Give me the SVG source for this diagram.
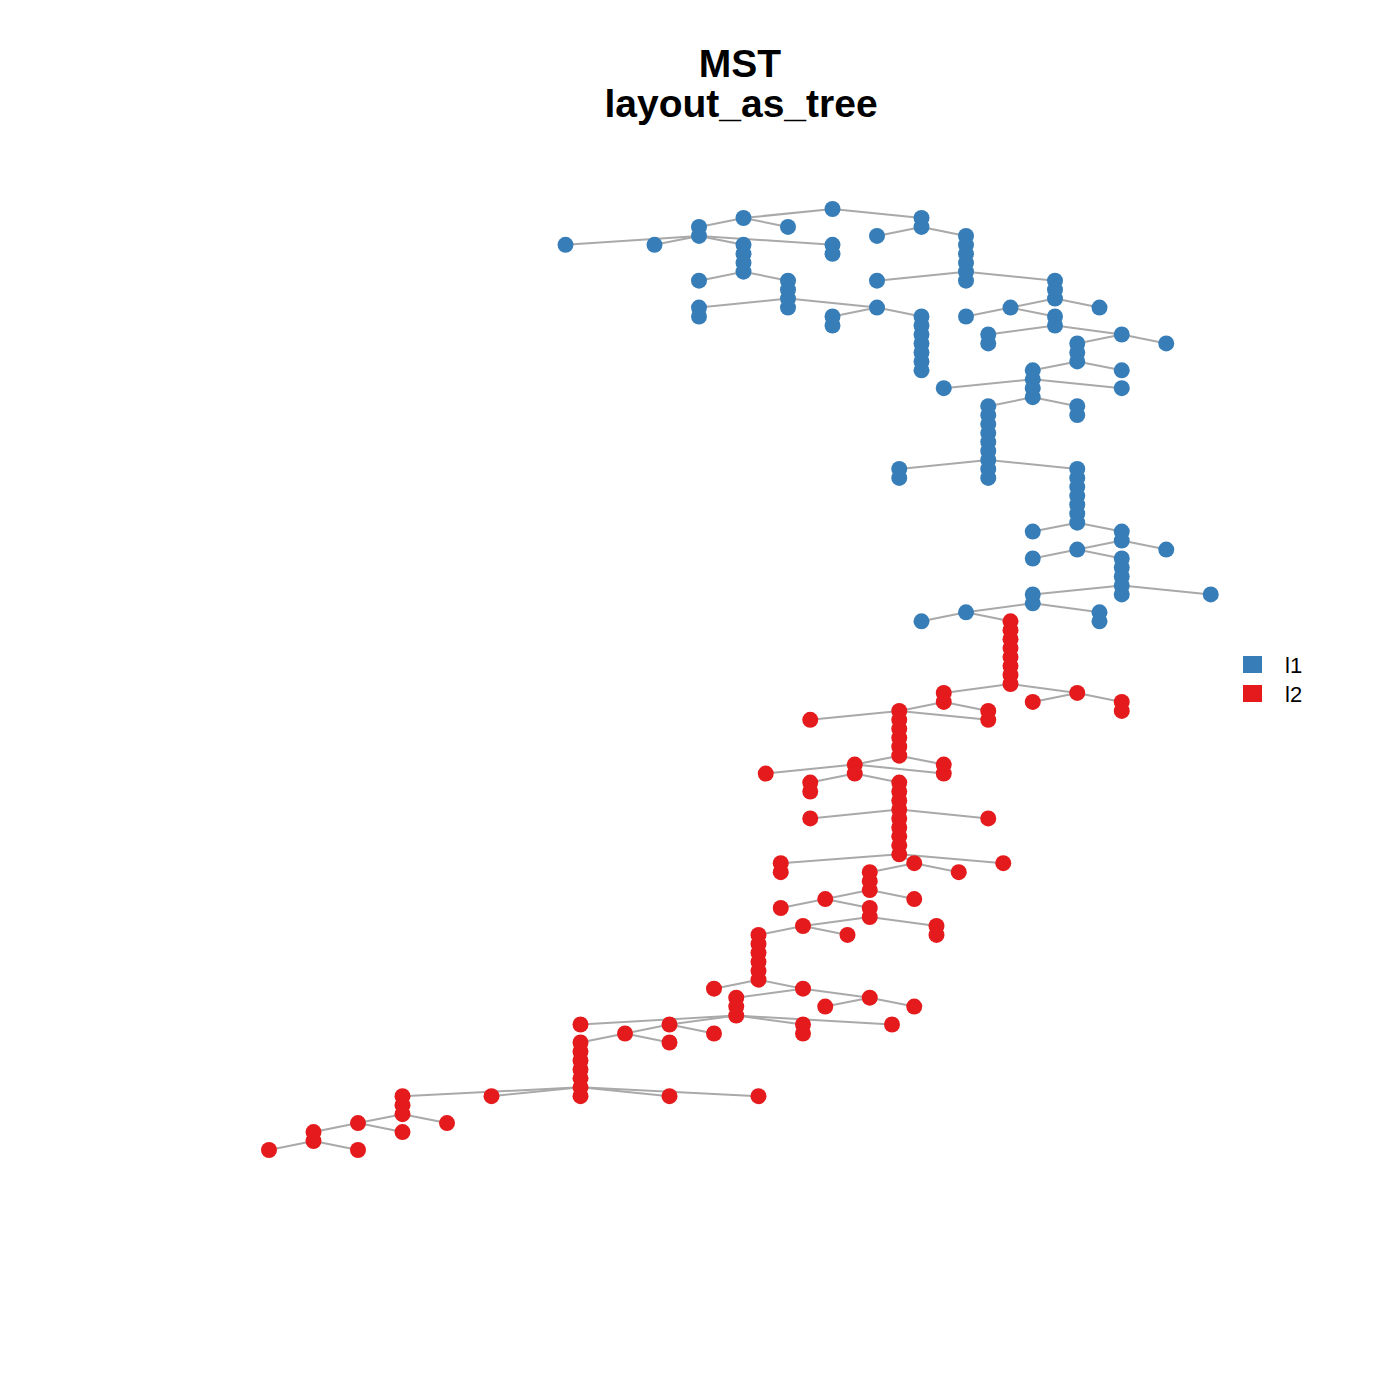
<svg xmlns="http://www.w3.org/2000/svg" width="1400" height="1400" viewBox="0 0 1400 1400">
<style>
.t{font-family:"Liberation Sans",Arial,sans-serif;font-weight:bold;font-size:39px;fill:#000;text-anchor:middle}
.lg{font-family:"Liberation Sans",Arial,sans-serif;font-size:22px;fill:#000}
.e line{stroke:#A9A9A9;stroke-width:2}
.b{fill:#377EB8}
.r{fill:#E41A1C}
</style>
<rect width="1400" height="1400" fill="#fff"/>
<text class="t" x="740" y="77">MST</text>
<text class="t" x="741" y="116.5">layout_as_tree</text>
<g id="edges" class="e">
<line x1="832.5" y1="209" x2="743.5" y2="218"/>
<line x1="832.5" y1="209" x2="921.5" y2="218"/>
<line x1="743.5" y1="218" x2="699" y2="226.9"/>
<line x1="743.5" y1="218" x2="788" y2="226.9"/>
<line x1="921.5" y1="218" x2="921.5" y2="226.9"/>
<line x1="699" y1="226.9" x2="699" y2="235.9"/>
<line x1="921.5" y1="226.9" x2="877" y2="235.9"/>
<line x1="921.5" y1="226.9" x2="966" y2="235.9"/>
<line x1="699" y1="235.9" x2="565.5" y2="244.8"/>
<line x1="699" y1="235.9" x2="654.5" y2="244.8"/>
<line x1="699" y1="235.9" x2="743.5" y2="244.8"/>
<line x1="699" y1="235.9" x2="832.5" y2="244.8"/>
<line x1="966" y1="235.9" x2="966" y2="244.8"/>
<line x1="743.5" y1="244.8" x2="743.5" y2="271.7"/>
<line x1="832.5" y1="244.8" x2="832.5" y2="253.8"/>
<line x1="966" y1="244.8" x2="966" y2="271.7"/>
<line x1="743.5" y1="271.7" x2="699" y2="280.7"/>
<line x1="743.5" y1="271.7" x2="788" y2="280.7"/>
<line x1="966" y1="271.7" x2="877" y2="280.7"/>
<line x1="966" y1="271.7" x2="966" y2="280.7"/>
<line x1="966" y1="271.7" x2="1055" y2="280.7"/>
<line x1="788" y1="280.7" x2="788" y2="298.6"/>
<line x1="1055" y1="280.7" x2="1055" y2="298.6"/>
<line x1="788" y1="298.6" x2="699" y2="307.6"/>
<line x1="788" y1="298.6" x2="788" y2="307.6"/>
<line x1="788" y1="298.6" x2="877" y2="307.6"/>
<line x1="1055" y1="298.6" x2="1010.5" y2="307.6"/>
<line x1="1055" y1="298.6" x2="1099.5" y2="307.6"/>
<line x1="699" y1="307.6" x2="699" y2="316.5"/>
<line x1="877" y1="307.6" x2="832.5" y2="316.5"/>
<line x1="877" y1="307.6" x2="921.5" y2="316.5"/>
<line x1="1010.5" y1="307.6" x2="966" y2="316.5"/>
<line x1="1010.5" y1="307.6" x2="1055" y2="316.5"/>
<line x1="832.5" y1="316.5" x2="832.5" y2="325.5"/>
<line x1="921.5" y1="316.5" x2="921.5" y2="370.3"/>
<line x1="1055" y1="316.5" x2="1055" y2="325.5"/>
<line x1="1055" y1="325.5" x2="988.25" y2="334.5"/>
<line x1="1055" y1="325.5" x2="1121.75" y2="334.5"/>
<line x1="988.25" y1="334.5" x2="988.25" y2="343.4"/>
<line x1="1121.75" y1="334.5" x2="1077.25" y2="343.4"/>
<line x1="1121.75" y1="334.5" x2="1166.25" y2="343.4"/>
<line x1="1077.25" y1="343.4" x2="1077.25" y2="361.4"/>
<line x1="1077.25" y1="361.4" x2="1032.75" y2="370.3"/>
<line x1="1077.25" y1="361.4" x2="1121.75" y2="370.3"/>
<line x1="1032.75" y1="370.3" x2="1032.75" y2="379.3"/>
<line x1="1032.75" y1="379.3" x2="943.75" y2="388.2"/>
<line x1="1032.75" y1="379.3" x2="1032.75" y2="388.2"/>
<line x1="1032.75" y1="379.3" x2="1121.75" y2="388.2"/>
<line x1="1032.75" y1="388.2" x2="1032.75" y2="397.2"/>
<line x1="1032.75" y1="397.2" x2="988.25" y2="406.2"/>
<line x1="1032.75" y1="397.2" x2="1077.25" y2="406.2"/>
<line x1="988.25" y1="406.2" x2="988.25" y2="459.9"/>
<line x1="1077.25" y1="406.2" x2="1077.25" y2="415.1"/>
<line x1="988.25" y1="459.9" x2="899.25" y2="468.9"/>
<line x1="988.25" y1="459.9" x2="988.25" y2="468.9"/>
<line x1="988.25" y1="459.9" x2="1077.25" y2="468.9"/>
<line x1="899.25" y1="468.9" x2="899.25" y2="477.9"/>
<line x1="988.25" y1="468.9" x2="988.25" y2="477.9"/>
<line x1="1077.25" y1="468.9" x2="1077.25" y2="522.7"/>
<line x1="1077.25" y1="522.7" x2="1032.75" y2="531.6"/>
<line x1="1077.25" y1="522.7" x2="1121.75" y2="531.6"/>
<line x1="1121.75" y1="531.6" x2="1121.75" y2="540.6"/>
<line x1="1121.75" y1="540.6" x2="1077.25" y2="549.6"/>
<line x1="1121.75" y1="540.6" x2="1166.25" y2="549.6"/>
<line x1="1077.25" y1="549.6" x2="1032.75" y2="558.5"/>
<line x1="1077.25" y1="549.6" x2="1121.75" y2="558.5"/>
<line x1="1121.75" y1="558.5" x2="1121.75" y2="585.4"/>
<line x1="1121.75" y1="585.4" x2="1032.75" y2="594.4"/>
<line x1="1121.75" y1="585.4" x2="1121.75" y2="594.4"/>
<line x1="1121.75" y1="585.4" x2="1210.75" y2="594.4"/>
<line x1="1032.75" y1="594.4" x2="1032.75" y2="603.3"/>
<line x1="1032.75" y1="603.3" x2="966" y2="612.3"/>
<line x1="1032.75" y1="603.3" x2="1099.5" y2="612.3"/>
<line x1="1099.5" y1="612.3" x2="1099.5" y2="621.3"/>
<line x1="966" y1="612.3" x2="921.5" y2="621.3"/>
<line x1="966" y1="612.3" x2="1010.5" y2="621.3"/>
<line x1="1010.5" y1="621.3" x2="1010.5" y2="684"/>
<line x1="1010.5" y1="684" x2="943.75" y2="692.9"/>
<line x1="1010.5" y1="684" x2="1077.25" y2="692.9"/>
<line x1="943.75" y1="692.9" x2="943.75" y2="701.9"/>
<line x1="1077.25" y1="692.9" x2="1032.75" y2="701.9"/>
<line x1="1077.25" y1="692.9" x2="1121.75" y2="701.9"/>
<line x1="1121.75" y1="701.9" x2="1121.75" y2="710.9"/>
<line x1="943.75" y1="701.9" x2="899.25" y2="710.9"/>
<line x1="943.75" y1="701.9" x2="988.25" y2="710.9"/>
<line x1="899.25" y1="710.9" x2="810.25" y2="719.8"/>
<line x1="899.25" y1="710.9" x2="899.25" y2="755.7"/>
<line x1="899.25" y1="710.9" x2="988.25" y2="719.8"/>
<line x1="899.25" y1="755.7" x2="854.75" y2="764.6"/>
<line x1="899.25" y1="755.7" x2="943.75" y2="764.6"/>
<line x1="854.75" y1="764.6" x2="765.75" y2="773.6"/>
<line x1="854.75" y1="764.6" x2="854.75" y2="773.6"/>
<line x1="854.75" y1="764.6" x2="943.75" y2="773.6"/>
<line x1="854.75" y1="773.6" x2="810.25" y2="782.6"/>
<line x1="854.75" y1="773.6" x2="899.25" y2="782.6"/>
<line x1="810.25" y1="782.6" x2="810.25" y2="791.5"/>
<line x1="899.25" y1="782.6" x2="899.25" y2="854.3"/>
<line x1="899.25" y1="809.5" x2="810.25" y2="818.4"/>
<line x1="899.25" y1="809.5" x2="988.25" y2="818.4"/>
<line x1="899.25" y1="854.3" x2="780.75" y2="863.2"/>
<line x1="899.25" y1="854.3" x2="914.25" y2="863.2"/>
<line x1="899.25" y1="854.3" x2="1003.25" y2="863.2"/>
<line x1="780.75" y1="863.2" x2="780.75" y2="872.2"/>
<line x1="914.25" y1="863.2" x2="869.75" y2="872.2"/>
<line x1="914.25" y1="863.2" x2="958.75" y2="872.2"/>
<line x1="869.75" y1="872.2" x2="869.75" y2="890.1"/>
<line x1="869.75" y1="890.1" x2="825.25" y2="899.1"/>
<line x1="869.75" y1="890.1" x2="914.25" y2="899.1"/>
<line x1="825.25" y1="899.1" x2="780.75" y2="908"/>
<line x1="825.25" y1="899.1" x2="869.75" y2="908"/>
<line x1="869.75" y1="908" x2="869.75" y2="917"/>
<line x1="869.75" y1="917" x2="803" y2="926"/>
<line x1="869.75" y1="917" x2="936.5" y2="926"/>
<line x1="936.5" y1="926" x2="936.5" y2="934.9"/>
<line x1="803" y1="926" x2="758.5" y2="934.9"/>
<line x1="803" y1="926" x2="847.5" y2="934.9"/>
<line x1="758.5" y1="934.9" x2="758.5" y2="979.7"/>
<line x1="758.5" y1="979.7" x2="714" y2="988.7"/>
<line x1="758.5" y1="979.7" x2="803" y2="988.7"/>
<line x1="803" y1="988.7" x2="736.25" y2="997.7"/>
<line x1="803" y1="988.7" x2="869.75" y2="997.7"/>
<line x1="736.25" y1="997.7" x2="736.25" y2="1015.6"/>
<line x1="869.75" y1="997.7" x2="825.25" y2="1006.6"/>
<line x1="869.75" y1="997.7" x2="914.25" y2="1006.6"/>
<line x1="736.25" y1="1015.6" x2="580.5" y2="1024.5"/>
<line x1="736.25" y1="1015.6" x2="669.5" y2="1024.5"/>
<line x1="736.25" y1="1015.6" x2="803" y2="1024.5"/>
<line x1="736.25" y1="1015.6" x2="892" y2="1024.5"/>
<line x1="803" y1="1024.5" x2="803" y2="1033.5"/>
<line x1="669.5" y1="1024.5" x2="625" y2="1033.5"/>
<line x1="669.5" y1="1024.5" x2="714" y2="1033.5"/>
<line x1="625" y1="1033.5" x2="580.5" y2="1042.5"/>
<line x1="625" y1="1033.5" x2="669.5" y2="1042.5"/>
<line x1="580.5" y1="1042.5" x2="580.5" y2="1096.2"/>
<line x1="580.5" y1="1087.3" x2="402.5" y2="1096.2"/>
<line x1="580.5" y1="1087.3" x2="491.5" y2="1096.2"/>
<line x1="580.5" y1="1087.3" x2="669.5" y2="1096.2"/>
<line x1="580.5" y1="1087.3" x2="758.5" y2="1096.2"/>
<line x1="402.5" y1="1096.2" x2="402.5" y2="1114.2"/>
<line x1="402.5" y1="1114.2" x2="358" y2="1123.1"/>
<line x1="402.5" y1="1114.2" x2="447" y2="1123.1"/>
<line x1="358" y1="1123.1" x2="313.5" y2="1132.1"/>
<line x1="358" y1="1123.1" x2="402.5" y2="1132.1"/>
<line x1="313.5" y1="1132.1" x2="313.5" y2="1141"/>
<line x1="313.5" y1="1141" x2="269" y2="1150"/>
<line x1="313.5" y1="1141" x2="358" y2="1150"/>
</g>
<g id="nodes">
<g id="b1"><circle class="b" cx="832.5" cy="209" r="8"/></g>
<g id="b2"><circle class="b" cx="743.5" cy="218" r="8"/></g>
<g id="b3"><circle class="b" cx="921.5" cy="218" r="8"/></g>
<g id="b4"><circle class="b" cx="699" cy="226.9" r="8"/></g>
<g id="b5"><circle class="b" cx="788" cy="226.9" r="8"/></g>
<g id="b6"><circle class="b" cx="921.5" cy="226.9" r="8"/></g>
<g id="b7"><circle class="b" cx="699" cy="235.9" r="8"/></g>
<g id="b8"><circle class="b" cx="877" cy="235.9" r="8"/></g>
<g id="b9"><circle class="b" cx="966" cy="235.9" r="8"/></g>
<g id="b10"><circle class="b" cx="565.5" cy="244.8" r="8"/></g>
<g id="b11"><circle class="b" cx="654.5" cy="244.8" r="8"/></g>
<g id="b12"><circle class="b" cx="743.5" cy="244.8" r="8"/></g>
<g id="b13"><circle class="b" cx="832.5" cy="244.8" r="8"/></g>
<g id="b14"><circle class="b" cx="966" cy="244.8" r="8"/></g>
<g id="b15"><circle class="b" cx="743.5" cy="253.8" r="8"/></g>
<g id="b16"><circle class="b" cx="832.5" cy="253.8" r="8"/></g>
<g id="b17"><circle class="b" cx="966" cy="253.8" r="8"/></g>
<g id="b18"><circle class="b" cx="743.5" cy="262.8" r="8"/></g>
<g id="b19"><circle class="b" cx="966" cy="262.8" r="8"/></g>
<g id="b20"><circle class="b" cx="743.5" cy="271.7" r="8"/></g>
<g id="b21"><circle class="b" cx="966" cy="271.7" r="8"/></g>
<g id="b22"><circle class="b" cx="699" cy="280.7" r="8"/></g>
<g id="b23"><circle class="b" cx="788" cy="280.7" r="8"/></g>
<g id="b24"><circle class="b" cx="877" cy="280.7" r="8"/></g>
<g id="b25"><circle class="b" cx="966" cy="280.7" r="8"/></g>
<g id="b26"><circle class="b" cx="1055" cy="280.7" r="8"/></g>
<g id="b27"><circle class="b" cx="788" cy="289.7" r="8"/></g>
<g id="b28"><circle class="b" cx="1055" cy="289.7" r="8"/></g>
<g id="b29"><circle class="b" cx="788" cy="298.6" r="8"/></g>
<g id="b30"><circle class="b" cx="1055" cy="298.6" r="8"/></g>
<g id="b31"><circle class="b" cx="699" cy="307.6" r="8"/></g>
<g id="b32"><circle class="b" cx="788" cy="307.6" r="8"/></g>
<g id="b33"><circle class="b" cx="877" cy="307.6" r="8"/></g>
<g id="b34"><circle class="b" cx="1010.5" cy="307.6" r="8"/></g>
<g id="b35"><circle class="b" cx="1099.5" cy="307.6" r="8"/></g>
<g id="b36"><circle class="b" cx="699" cy="316.5" r="8"/></g>
<g id="b37"><circle class="b" cx="832.5" cy="316.5" r="8"/></g>
<g id="b38"><circle class="b" cx="921.5" cy="316.5" r="8"/></g>
<g id="b39"><circle class="b" cx="966" cy="316.5" r="8"/></g>
<g id="b40"><circle class="b" cx="1055" cy="316.5" r="8"/></g>
<g id="b41"><circle class="b" cx="832.5" cy="325.5" r="8"/></g>
<g id="b42"><circle class="b" cx="921.5" cy="325.5" r="8"/></g>
<g id="b43"><circle class="b" cx="1055" cy="325.5" r="8"/></g>
<g id="b44"><circle class="b" cx="921.5" cy="334.5" r="8"/></g>
<g id="b45"><circle class="b" cx="988.25" cy="334.5" r="8"/></g>
<g id="b46"><circle class="b" cx="1121.75" cy="334.5" r="8"/></g>
<g id="b47"><circle class="b" cx="921.5" cy="343.4" r="8"/></g>
<g id="b48"><circle class="b" cx="988.25" cy="343.4" r="8"/></g>
<g id="b49"><circle class="b" cx="1077.25" cy="343.4" r="8"/></g>
<g id="b50"><circle class="b" cx="1166.25" cy="343.4" r="8"/></g>
<g id="b51"><circle class="b" cx="921.5" cy="352.4" r="8"/></g>
<g id="b52"><circle class="b" cx="1077.25" cy="352.4" r="8"/></g>
<g id="b53"><circle class="b" cx="921.5" cy="361.4" r="8"/></g>
<g id="b54"><circle class="b" cx="1077.25" cy="361.4" r="8"/></g>
<g id="b55"><circle class="b" cx="921.5" cy="370.3" r="8"/></g>
<g id="b56"><circle class="b" cx="1032.75" cy="370.3" r="8"/></g>
<g id="b57"><circle class="b" cx="1121.75" cy="370.3" r="8"/></g>
<g id="b58"><circle class="b" cx="1032.75" cy="379.3" r="8"/></g>
<g id="b59"><circle class="b" cx="943.75" cy="388.2" r="8"/></g>
<g id="b60"><circle class="b" cx="1032.75" cy="388.2" r="8"/></g>
<g id="b61"><circle class="b" cx="1121.75" cy="388.2" r="8"/></g>
<g id="b62"><circle class="b" cx="1032.75" cy="397.2" r="8"/></g>
<g id="b63"><circle class="b" cx="988.25" cy="406.2" r="8"/></g>
<g id="b64"><circle class="b" cx="1077.25" cy="406.2" r="8"/></g>
<g id="b65"><circle class="b" cx="988.25" cy="415.1" r="8"/></g>
<g id="b66"><circle class="b" cx="1077.25" cy="415.1" r="8"/></g>
<g id="b67"><circle class="b" cx="988.25" cy="424.1" r="8"/></g>
<g id="b68"><circle class="b" cx="988.25" cy="433.1" r="8"/></g>
<g id="b69"><circle class="b" cx="988.25" cy="442" r="8"/></g>
<g id="b70"><circle class="b" cx="988.25" cy="451" r="8"/></g>
<g id="b71"><circle class="b" cx="988.25" cy="459.9" r="8"/></g>
<g id="b72"><circle class="b" cx="899.25" cy="468.9" r="8"/></g>
<g id="b73"><circle class="b" cx="988.25" cy="468.9" r="8"/></g>
<g id="b74"><circle class="b" cx="1077.25" cy="468.9" r="8"/></g>
<g id="b75"><circle class="b" cx="899.25" cy="477.9" r="8"/></g>
<g id="b76"><circle class="b" cx="988.25" cy="477.9" r="8"/></g>
<g id="b77"><circle class="b" cx="1077.25" cy="477.9" r="8"/></g>
<g id="b78"><circle class="b" cx="1077.25" cy="486.8" r="8"/></g>
<g id="b79"><circle class="b" cx="1077.25" cy="495.8" r="8"/></g>
<g id="b80"><circle class="b" cx="1077.25" cy="504.7" r="8"/></g>
<g id="b81"><circle class="b" cx="1077.25" cy="513.7" r="8"/></g>
<g id="b82"><circle class="b" cx="1077.25" cy="522.7" r="8"/></g>
<g id="b83"><circle class="b" cx="1032.75" cy="531.6" r="8"/></g>
<g id="b84"><circle class="b" cx="1121.75" cy="531.6" r="8"/></g>
<g id="b85"><circle class="b" cx="1121.75" cy="540.6" r="8"/></g>
<g id="b86"><circle class="b" cx="1077.25" cy="549.6" r="8"/></g>
<g id="b87"><circle class="b" cx="1166.25" cy="549.6" r="8"/></g>
<g id="b88"><circle class="b" cx="1032.75" cy="558.5" r="8"/></g>
<g id="b89"><circle class="b" cx="1121.75" cy="558.5" r="8"/></g>
<g id="b90"><circle class="b" cx="1121.75" cy="567.5" r="8"/></g>
<g id="b91"><circle class="b" cx="1121.75" cy="576.4" r="8"/></g>
<g id="b92"><circle class="b" cx="1121.75" cy="585.4" r="8"/></g>
<g id="b93"><circle class="b" cx="1032.75" cy="594.4" r="8"/></g>
<g id="b94"><circle class="b" cx="1121.75" cy="594.4" r="8"/></g>
<g id="b95"><circle class="b" cx="1210.75" cy="594.4" r="8"/></g>
<g id="b96"><circle class="b" cx="1032.75" cy="603.3" r="8"/></g>
<g id="b97"><circle class="b" cx="966" cy="612.3" r="8"/></g>
<g id="b98"><circle class="b" cx="1099.5" cy="612.3" r="8"/></g>
<g id="b99"><circle class="b" cx="921.5" cy="621.3" r="8"/></g>
<g id="b100"><circle class="b" cx="1099.5" cy="621.3" r="8"/></g>
<g id="r1"><circle class="r" cx="1010.5" cy="621.3" r="8"/></g>
<g id="r2"><circle class="r" cx="1010.5" cy="630.2" r="8"/></g>
<g id="r3"><circle class="r" cx="1010.5" cy="639.2" r="8"/></g>
<g id="r4"><circle class="r" cx="1010.5" cy="648.1" r="8"/></g>
<g id="r5"><circle class="r" cx="1010.5" cy="657.1" r="8"/></g>
<g id="r6"><circle class="r" cx="1010.5" cy="666.1" r="8"/></g>
<g id="r7"><circle class="r" cx="1010.5" cy="675" r="8"/></g>
<g id="r8"><circle class="r" cx="1010.5" cy="684" r="8"/></g>
<g id="r9"><circle class="r" cx="943.75" cy="692.9" r="8"/></g>
<g id="r10"><circle class="r" cx="1077.25" cy="692.9" r="8"/></g>
<g id="r11"><circle class="r" cx="943.75" cy="701.9" r="8"/></g>
<g id="r12"><circle class="r" cx="1032.75" cy="701.9" r="8"/></g>
<g id="r13"><circle class="r" cx="1121.75" cy="701.9" r="8"/></g>
<g id="r14"><circle class="r" cx="899.25" cy="710.9" r="8"/></g>
<g id="r15"><circle class="r" cx="988.25" cy="710.9" r="8"/></g>
<g id="r16"><circle class="r" cx="1121.75" cy="710.9" r="8"/></g>
<g id="r17"><circle class="r" cx="810.25" cy="719.8" r="8"/></g>
<g id="r18"><circle class="r" cx="899.25" cy="719.8" r="8"/></g>
<g id="r19"><circle class="r" cx="988.25" cy="719.8" r="8"/></g>
<g id="r20"><circle class="r" cx="899.25" cy="728.8" r="8"/></g>
<g id="r21"><circle class="r" cx="899.25" cy="737.8" r="8"/></g>
<g id="r22"><circle class="r" cx="899.25" cy="746.7" r="8"/></g>
<g id="r23"><circle class="r" cx="899.25" cy="755.7" r="8"/></g>
<g id="r24"><circle class="r" cx="854.75" cy="764.6" r="8"/></g>
<g id="r25"><circle class="r" cx="943.75" cy="764.6" r="8"/></g>
<g id="r26"><circle class="r" cx="765.75" cy="773.6" r="8"/></g>
<g id="r27"><circle class="r" cx="854.75" cy="773.6" r="8"/></g>
<g id="r28"><circle class="r" cx="943.75" cy="773.6" r="8"/></g>
<g id="r29"><circle class="r" cx="810.25" cy="782.6" r="8"/></g>
<g id="r30"><circle class="r" cx="899.25" cy="782.6" r="8"/></g>
<g id="r31"><circle class="r" cx="810.25" cy="791.5" r="8"/></g>
<g id="r32"><circle class="r" cx="899.25" cy="791.5" r="8"/></g>
<g id="r33"><circle class="r" cx="899.25" cy="800.5" r="8"/></g>
<g id="r34"><circle class="r" cx="899.25" cy="809.5" r="8"/></g>
<g id="r35"><circle class="r" cx="810.25" cy="818.4" r="8"/></g>
<g id="r36"><circle class="r" cx="899.25" cy="818.4" r="8"/></g>
<g id="r37"><circle class="r" cx="988.25" cy="818.4" r="8"/></g>
<g id="r38"><circle class="r" cx="899.25" cy="827.4" r="8"/></g>
<g id="r39"><circle class="r" cx="899.25" cy="836.3" r="8"/></g>
<g id="r40"><circle class="r" cx="899.25" cy="845.3" r="8"/></g>
<g id="r41"><circle class="r" cx="899.25" cy="854.3" r="8"/></g>
<g id="r42"><circle class="r" cx="780.75" cy="863.2" r="8"/></g>
<g id="r43"><circle class="r" cx="914.25" cy="863.2" r="8"/></g>
<g id="r44"><circle class="r" cx="1003.25" cy="863.2" r="8"/></g>
<g id="r45"><circle class="r" cx="780.75" cy="872.2" r="8"/></g>
<g id="r46"><circle class="r" cx="869.75" cy="872.2" r="8"/></g>
<g id="r47"><circle class="r" cx="958.75" cy="872.2" r="8"/></g>
<g id="r48"><circle class="r" cx="869.75" cy="881.2" r="8"/></g>
<g id="r49"><circle class="r" cx="869.75" cy="890.1" r="8"/></g>
<g id="r50"><circle class="r" cx="825.25" cy="899.1" r="8"/></g>
<g id="r51"><circle class="r" cx="914.25" cy="899.1" r="8"/></g>
<g id="r52"><circle class="r" cx="780.75" cy="908" r="8"/></g>
<g id="r53"><circle class="r" cx="869.75" cy="908" r="8"/></g>
<g id="r54"><circle class="r" cx="869.75" cy="917" r="8"/></g>
<g id="r55"><circle class="r" cx="803" cy="926" r="8"/></g>
<g id="r56"><circle class="r" cx="936.5" cy="926" r="8"/></g>
<g id="r57"><circle class="r" cx="758.5" cy="934.9" r="8"/></g>
<g id="r58"><circle class="r" cx="847.5" cy="934.9" r="8"/></g>
<g id="r59"><circle class="r" cx="936.5" cy="934.9" r="8"/></g>
<g id="r60"><circle class="r" cx="758.5" cy="943.9" r="8"/></g>
<g id="r61"><circle class="r" cx="758.5" cy="952.8" r="8"/></g>
<g id="r62"><circle class="r" cx="758.5" cy="961.8" r="8"/></g>
<g id="r63"><circle class="r" cx="758.5" cy="970.8" r="8"/></g>
<g id="r64"><circle class="r" cx="758.5" cy="979.7" r="8"/></g>
<g id="r65"><circle class="r" cx="714" cy="988.7" r="8"/></g>
<g id="r66"><circle class="r" cx="803" cy="988.7" r="8"/></g>
<g id="r67"><circle class="r" cx="736.25" cy="997.7" r="8"/></g>
<g id="r68"><circle class="r" cx="869.75" cy="997.7" r="8"/></g>
<g id="r69"><circle class="r" cx="736.25" cy="1006.6" r="8"/></g>
<g id="r70"><circle class="r" cx="825.25" cy="1006.6" r="8"/></g>
<g id="r71"><circle class="r" cx="914.25" cy="1006.6" r="8"/></g>
<g id="r72"><circle class="r" cx="736.25" cy="1015.6" r="8"/></g>
<g id="r73"><circle class="r" cx="580.5" cy="1024.5" r="8"/></g>
<g id="r74"><circle class="r" cx="669.5" cy="1024.5" r="8"/></g>
<g id="r75"><circle class="r" cx="803" cy="1024.5" r="8"/></g>
<g id="r76"><circle class="r" cx="892" cy="1024.5" r="8"/></g>
<g id="r77"><circle class="r" cx="625" cy="1033.5" r="8"/></g>
<g id="r78"><circle class="r" cx="714" cy="1033.5" r="8"/></g>
<g id="r79"><circle class="r" cx="803" cy="1033.5" r="8"/></g>
<g id="r80"><circle class="r" cx="580.5" cy="1042.5" r="8"/></g>
<g id="r81"><circle class="r" cx="669.5" cy="1042.5" r="8"/></g>
<g id="r82"><circle class="r" cx="580.5" cy="1051.4" r="8"/></g>
<g id="r83"><circle class="r" cx="580.5" cy="1060.4" r="8"/></g>
<g id="r84"><circle class="r" cx="580.5" cy="1069.4" r="8"/></g>
<g id="r85"><circle class="r" cx="580.5" cy="1078.3" r="8"/></g>
<g id="r86"><circle class="r" cx="580.5" cy="1087.3" r="8"/></g>
<g id="r87"><circle class="r" cx="402.5" cy="1096.2" r="8"/></g>
<g id="r88"><circle class="r" cx="491.5" cy="1096.2" r="8"/></g>
<g id="r89"><circle class="r" cx="580.5" cy="1096.2" r="8"/></g>
<g id="r90"><circle class="r" cx="669.5" cy="1096.2" r="8"/></g>
<g id="r91"><circle class="r" cx="758.5" cy="1096.2" r="8"/></g>
<g id="r92"><circle class="r" cx="402.5" cy="1105.2" r="8"/></g>
<g id="r93"><circle class="r" cx="402.5" cy="1114.2" r="8"/></g>
<g id="r94"><circle class="r" cx="358" cy="1123.1" r="8"/></g>
<g id="r95"><circle class="r" cx="447" cy="1123.1" r="8"/></g>
<g id="r96"><circle class="r" cx="313.5" cy="1132.1" r="8"/></g>
<g id="r97"><circle class="r" cx="402.5" cy="1132.1" r="8"/></g>
<g id="r98"><circle class="r" cx="313.5" cy="1141" r="8"/></g>
<g id="r99"><circle class="r" cx="269" cy="1150" r="8"/></g>
<g id="r100"><circle class="r" cx="358" cy="1150" r="8"/></g>
</g>
<g id="legend">
<rect class="b" x="1243" y="656" width="19" height="17"/>
<rect class="r" x="1243" y="685" width="19" height="17"/>
<text class="lg" x="1285" y="673">l1</text>
<text class="lg" x="1285" y="702">l2</text>
</g>
</svg>
